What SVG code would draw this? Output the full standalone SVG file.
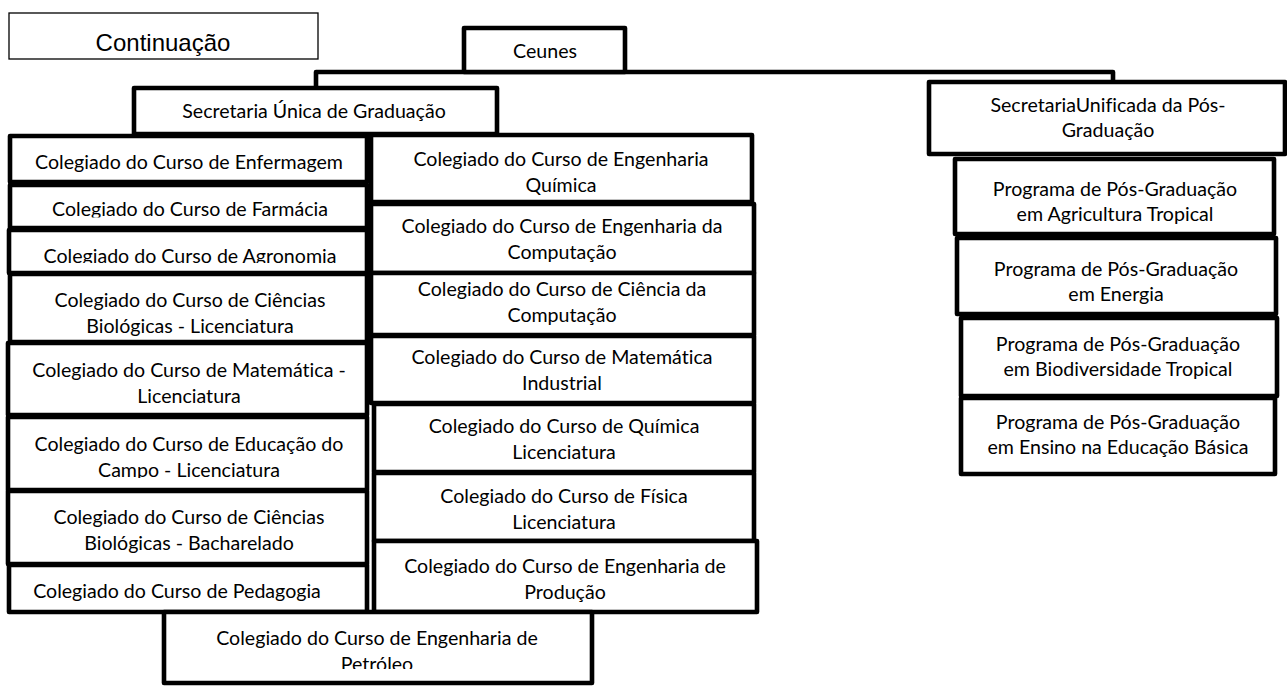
<svg xmlns="http://www.w3.org/2000/svg" width="1287" height="686" viewBox="0 0 1287 686">
<style>
.box{fill:#fff;stroke:#000;stroke-width:4.6;stroke-linejoin:round}
.thin{fill:#fff;stroke:#000;stroke-width:1.3}
.t{font-family:Lato,"Noto Sans",sans-serif;font-size:19.6px;text-anchor:middle;fill:#000;font-variant-ligatures:none}
.a{font-family:"Liberation Sans",Arial,sans-serif;font-size:24px;text-anchor:middle;fill:#000}
.conn{fill:none;stroke:#000;stroke-width:4.6;stroke-linejoin:round}
</style>
<defs>
<clipPath id="cFarm"><rect x="10" y="184" width="358" height="33.5"/></clipPath>
<clipPath id="cAgro"><rect x="10" y="230" width="358" height="33"/></clipPath>
<clipPath id="cCampo"><rect x="10" y="417" width="358" height="61"/></clipPath>
<clipPath id="cPetro"><rect x="164" y="612" width="428" height="57"/></clipPath>
</defs>
<rect width="1287" height="686" fill="#fff"/>
<g id="connectors">
<path class="conn" d="M316,88 V72 H1113 V82"/>
</g>
<g id="continuacao"><rect class="thin" x="9" y="13" width="309" height="46"/><text class="a" x="163" y="51">Continuação</text></g>
<g id="ceunes"><rect class="box" x="464" y="28" width="161" height="44"/><text class="t" x="545" y="58">Ceunes</text></g>
<g id="sec-grad"><rect class="box" x="134" y="88" width="363" height="46"/><text class="t" x="314" y="118">Secretaria Única de Graduação</text></g>
<g id="sec-pos"><rect class="box" x="929" y="82" width="356" height="72"/><text class="t" x="1108" y="112">SecretariaUnificada da Pós-</text><text class="t" x="1108" y="137">Graduação</text></g>

<g id="enfermagem"><rect class="box" x="10" y="136" width="357" height="46"/><text class="t" x="189" y="169">Colegiado do Curso de Enfermagem</text></g>
<g id="farmacia"><rect class="box" x="10" y="185" width="357" height="43"/><text class="t" x="190" y="215.5" clip-path="url(#cFarm)">Colegiado do Curso de Farmácia</text></g>
<g id="agronomia"><rect class="box" x="9" y="230" width="358" height="43"/><text class="t" x="190" y="263" clip-path="url(#cAgro)">Colegiado do Curso de Agronomia</text></g>
<g id="cb-lic"><rect class="box" x="10" y="274" width="357" height="68"/><text class="t" x="190" y="307">Colegiado do Curso de Ciências</text><text class="t" x="190" y="333">Biológicas - Licenciatura</text></g>
<g id="mat-lic"><rect class="box" x="8" y="343" width="359" height="72"/><text class="t" x="189" y="377">Colegiado do Curso de Matemática -</text><text class="t" x="189" y="403">Licenciatura</text></g>
<g id="educ-campo"><rect class="box" x="8" y="417" width="359" height="73"/><text class="t" x="189" y="451">Colegiado do Curso de Educação do</text><text class="t" x="189" y="477" clip-path="url(#cCampo)">Campo - Licenciatura</text></g>
<g id="cb-bach"><rect class="box" x="8" y="491" width="359" height="73"/><text class="t" x="189" y="524">Colegiado do Curso de Ciências</text><text class="t" x="189" y="550">Biológicas - Bacharelado</text></g>
<g id="pedagogia"><rect class="box" x="9" y="565" width="358" height="47"/><text class="t" x="177" y="598">Colegiado do Curso de Pedagogia</text></g>

<g id="eng-quimica"><rect class="box" x="371" y="135" width="381" height="67"/><text class="t" x="561" y="166">Colegiado do Curso de Engenharia</text><text class="t" x="561" y="192">Química</text></g>
<g id="eng-comp"><rect class="box" x="371" y="204" width="383" height="69"/><text class="t" x="562" y="233">Colegiado do Curso de Engenharia da</text><text class="t" x="562" y="259">Computação</text></g>
<g id="ciencia-comp"><rect class="box" x="371" y="273" width="383" height="62"/><text class="t" x="562" y="296">Colegiado do Curso de Ciência da</text><text class="t" x="562" y="322">Computação</text></g>
<g id="mat-ind"><rect class="box" x="371" y="336" width="383" height="67"/><text class="t" x="562" y="364">Colegiado do Curso de Matemática</text><text class="t" x="562" y="390">Industrial</text></g>
<g id="quimica-lic"><rect class="box" x="374" y="404" width="380" height="68"/><text class="t" x="564" y="433">Colegiado do Curso de Química</text><text class="t" x="564" y="459">Licenciatura</text></g>
<g id="fisica-lic"><rect class="box" x="374" y="473" width="380" height="68"/><text class="t" x="564" y="503">Colegiado do Curso de Física</text><text class="t" x="564" y="529">Licenciatura</text></g>
<g id="eng-prod"><rect class="box" x="374" y="541" width="383" height="71"/><text class="t" x="565" y="573">Colegiado do Curso de Engenharia de</text><text class="t" x="565" y="599">Produção</text></g>

<g id="eng-petroleo"><rect class="box" x="164" y="612" width="428" height="71"/><text class="t" x="377" y="645">Colegiado do Curso de Engenharia de</text><text class="t" x="377" y="671" clip-path="url(#cPetro)">Petróleo</text></g>

<g id="ppg-agri"><rect class="box" x="955" y="159" width="319" height="75"/><text class="t" x="1115" y="196">Programa de Pós-Graduação</text><text class="t" x="1115" y="221">em Agricultura Tropical</text></g>
<g id="ppg-energia"><rect class="box" x="957" y="238" width="319" height="76"/><text class="t" x="1116" y="276">Programa de Pós-Graduação</text><text class="t" x="1116" y="301">em Energia</text></g>
<g id="ppg-bio"><rect class="box" x="961" y="318" width="316" height="78"/><text class="t" x="1118" y="351">Programa de Pós-Graduação</text><text class="t" x="1118" y="376">em Biodiversidade Tropical</text></g>
<g id="ppg-ensino"><rect class="box" x="961" y="398" width="314" height="76"/><text class="t" x="1118" y="429">Programa de Pós-Graduação</text><text class="t" x="1118" y="454">em Ensino na Educação Básica</text></g>
</svg>
